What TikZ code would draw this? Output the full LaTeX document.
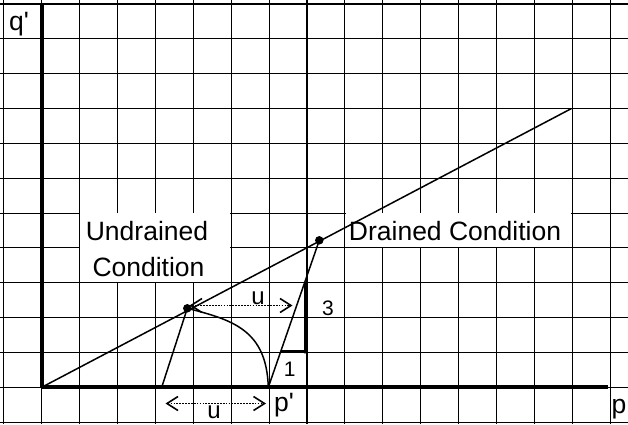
\documentclass[tikz,border=0pt]{standalone}
\usepackage{fontspec}
\newfontfamily\labelfont{Liberation Sans}
\usetikzlibrary{arrows.meta}
\begin{document}
\begin{tikzpicture}[x=1pt,y=-1pt,
  gridline/.style={line width=1.1pt,black},
  axisline/.style={line width=4pt,black},
  thinline/.style={line width=1.5pt,black},
  whitebox/.style={fill=white,draw=none},
  lbl/.style={inner sep=0pt,font=\labelfont\fontsize{26.5}{31}\selectfont},
  smalllbl/.style={inner sep=0pt,font=\labelfont\fontsize{21}{25}\selectfont},
  ulbl/.style={inner sep=0pt,font=\labelfont\fontsize{24}{28}\selectfont},
  dotpt/.style={circle,fill=black,inner sep=0pt,minimum size=8.5pt},
  uarrow/.style={line width=1.7pt,dash pattern=on 1.7pt off 1.2pt,
    {Straight Barb[length=11pt,width=14pt,line width=1.6pt]}-{Straight Barb[length=11pt,width=14pt,line width=1.6pt]}}
]
\useasboundingbox (0,0) rectangle (628,424);
\fill[white] (0,0) rectangle (628,424);
% grid
\foreach \k in {-1,...,15} {
  \draw[gridline] ({41.7+37.9*\k},0) -- ({41.7+37.9*\k},424);
}
\foreach \j in {-1,...,11} {
  \draw[gridline] (0,{387.3-34.85*\j}) -- (628,{387.3-34.85*\j});
}
% white label boxes (merged cells)
\fill[whitebox] (80.4,213.4) rectangle (230.3,281.6);
\fill[whitebox] (345.6,213.4) rectangle (571.4,246.8);

% key points
\coordinate (O) at (41.7,387.3);
\coordinate (Qtop) at (41.7,3.9);
\coordinate (Pend) at (607.7,387.3);
\coordinate (Cend) at (571.5,108.5);
\coordinate (pp) at (268.3,387.3);
\coordinate (T) at (161.7,387.3);
\coordinate (triA) at (280.7,351.9);
\coordinate (triB) at (305.7,351.9);
\coordinate (triC) at (305.7,281.6);
\node[dotpt] (D) at (319.3,240.3) {};
\node[dotpt] (U) at (187.3,308.3) {};

% axes
\draw[axisline] (O) -- (Qtop);
\draw[axisline] (O) -- (Pend);
% critical state line
\draw[thinline] (O) -- (Cend);
% drained path
\draw[thinline] (pp) -- (D.center);
% total stress path
\draw[thinline] (T) -- (U.center);
% undrained effective stress path
\draw[thinline] (pp) .. controls (266.5,330) and (233,320) .. (U.center);
% slope triangle
\draw[line width=3pt] (triA) -- (triB);
\draw[line width=4pt] (triB) -- ++(0,1.5) -- (triC);

% pore pressure arrows
\coordinate (ua1) at (189.5,305.5);
\coordinate (ua2) at (292.5,305.5);
\draw[uarrow] (ua1) -- (ua2);
\coordinate (ub1) at (165.5,403.5);
\coordinate (ub2) at (266,403.5);
\draw[uarrow] (ub1) -- (ub2);

% labels
\node[lbl,anchor=base west] (qlbl) at (9,30.5) {q'};
\node[lbl,anchor=base west] (pplbl) at (274,411.5) {p'};
\node[lbl,anchor=base west] (plbl) at (611.5,413.5) {p};
\node[smalllbl,anchor=base] (one) at (289.7,376.7) {1};
\node[smalllbl,anchor=base] (three) at (328,315) {3};
\node[ulbl,anchor=base] (utop) at (258,304.5) {u};
\node[ulbl,anchor=base] (ubot) at (214,418.5) {u};
\node[lbl,anchor=base] (und) at (147,240.7) {Undrained};
\node[lbl,anchor=base] (cond) at (148.5,276) {Condition};
\node[lbl,anchor=base] (dr) at (455,240.7) {Drained Condition};
\end{tikzpicture}
\end{document}
